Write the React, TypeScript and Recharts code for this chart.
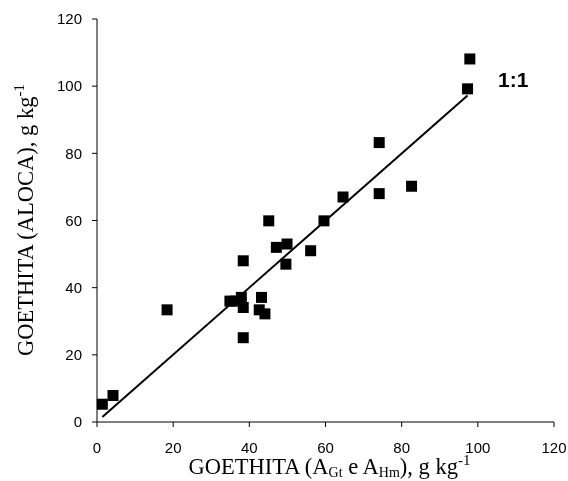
import React from "react";
import { ScatterChart, Scatter, XAxis, YAxis, ReferenceLine, Label } from "recharts";

// goethita by A_Gt/A_Hm (x) vs ALOCA (y), g kg-1
const goethitaA = [1.4, 4.2, 18.4, 34.9, 36.3, 37.9, 38.4, 38.4, 38.4, 43.2, 42.6, 44.1, 45.1, 47.1, 49.9, 49.6, 56.1, 59.6, 64.6, 74.1, 74.1, 82.6, 97.3, 97.9];
const goethitaAloca = [5.3, 7.9, 33.4, 36.0, 36.0, 37.1, 34.1, 25.1, 48.0, 37.1, 33.4, 32.2, 59.9, 52.0, 53.0, 47.0, 51.0, 59.9, 67.0, 83.2, 68.0, 70.2, 99.2, 108.1];

// 1:1 line ends
const lineX = [1.4, 97.3];
const lineY = [1.5, 97.2];

const axisTicks = [0, 20, 40, 60, 80, 100, 120];

const points = goethitaA.map((x, i) => ({ x, y: goethitaAloca[i] }));

const Square = (props: any) => (
  <rect x={props.cx - 5.5} y={props.cy - 5.5} width={11} height={11} fill="#000" />
);

const serif = "'Liberation Serif', 'Times New Roman', serif";
const sans = "'Liberation Sans', Arial, sans-serif";

const XTitle = (props: any) => {
  const vb = props.viewBox;
  return (
    <text x={vb.x + vb.width / 2 + 4} y={474} textAnchor="middle" fontFamily={serif} fontSize={22.5} fill="#000">
      GOETHITA (A<tspan dy={3} fontSize={14}>Gt</tspan>
      <tspan dy={-3}> e A</tspan>
      <tspan dy={3} fontSize={14}>Hm</tspan>
      <tspan dy={-3}>), g kg</tspan>
      <tspan dy={-9} fontSize={15}>-1</tspan>
    </text>
  );
};

const YTitle = () => (
  <text x={0} y={0} transform="translate(33, 220) rotate(-90)" textAnchor="middle" fontFamily={serif} fontSize={22.5} fill="#000">
    GOETHITA (ALOCA), g kg<tspan dy={-9} fontSize={15}>-1</tspan>
  </text>
);

export default function App() {
  return (
    <div style={{ position: "fixed", left: 0, top: 0, width: 568, height: 481 }}>
      <ScatterChart width={568} height={481} margin={{ top: 19, right: 14, bottom: 0, left: 0 }}>
        <XAxis
          type="number"
          dataKey="x"
          domain={[0, 120]}
          ticks={axisTicks}
          height={59}
          tickSize={5}
          tickMargin={15}
          stroke="#000"
          tick={{ fill: "#000", fontSize: 15, fontFamily: sans }}
        >
          <Label content={XTitle} />
        </XAxis>
        <YAxis
          type="number"
          dataKey="y"
          domain={[0, 120]}
          ticks={axisTicks}
          width={97}
          tickSize={5}
          tickMargin={10}
          stroke="#000"
          tick={{ fill: "#000", fontSize: 15, fontFamily: sans }}
        >
          <Label content={YTitle} />
        </YAxis>
        <ReferenceLine
          segment={[{ x: lineX[0], y: lineY[0] }, { x: lineX[1], y: lineY[1] }]}
          stroke="#000"
          strokeWidth={2}
          ifOverflow="visible"
        />
        <Scatter data={points} shape={Square} isAnimationActive={false} />
        <text x={498} y={87} fontFamily={sans} fontWeight="bold" fontSize={21} fill="#000">
          1:1
        </text>
      </ScatterChart>
    </div>
  );
}
